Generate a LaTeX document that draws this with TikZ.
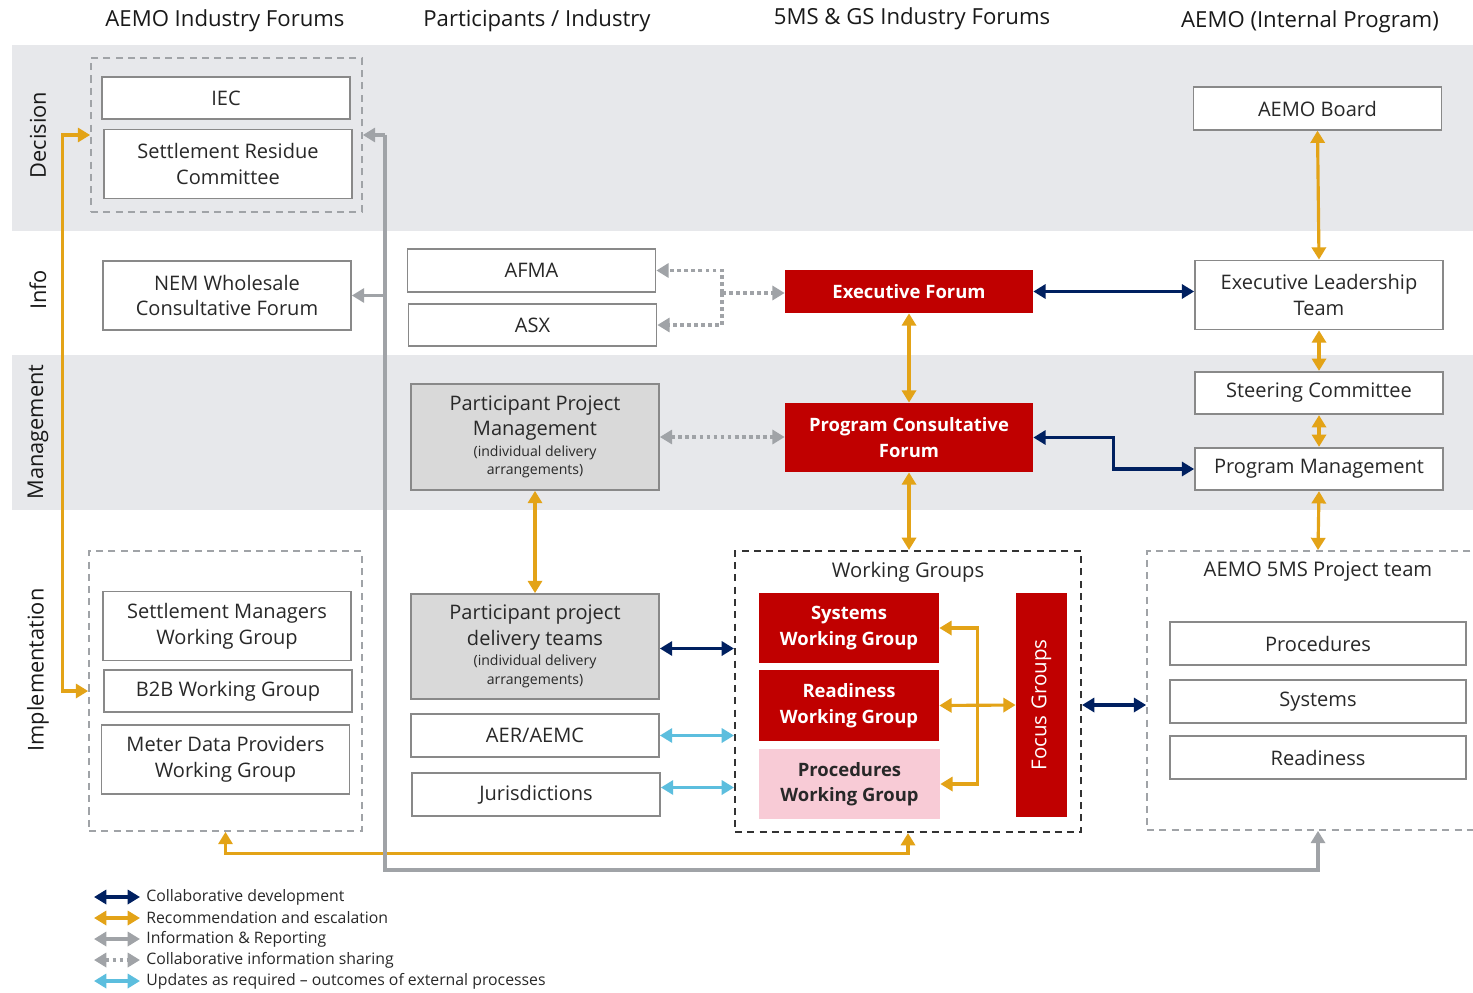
\documentclass[tikz,border=0pt]{standalone}
\usepackage{fontspec}
\setmainfont{Open Sans}
\usetikzlibrary{arrows.meta,positioning,calc}

\definecolor{band}{RGB}{231,232,235}
\definecolor{boxline}{RGB}{137,137,137}
\definecolor{txt}{RGB}{40,40,40}
\definecolor{aemored}{RGB}{192,0,0}
\definecolor{pinkwg}{RGB}{248,203,214}
\definecolor{graybox}{RGB}{217,217,217}
\definecolor{navyc}{RGB}{0,32,96}
\definecolor{orangec}{RGB}{227,163,23}
\definecolor{grayc}{RGB}{160,163,167}
\definecolor{bluec}{RGB}{92,190,222}

\begin{document}
\begin{tikzpicture}[
    x=0.02cm, y=-0.02cm,
    >={Triangle[width=8pt,length=7pt]},
    box/.style={rectangle, draw=boxline, line width=1pt, fill=white, text=txt, align=center, inner sep=0pt, minimum width=4.96cm, minimum height=0.85cm, font=\fontsize{11.4}{14.6}\selectfont},
    tall/.style={minimum height=1.38cm},
    redbox/.style={rectangle, fill=aemored, text=white, align=center, inner sep=0pt, minimum width=4.96cm, minimum height=0.86cm, font=\fontsize{10.5}{14.5}\selectfont\bfseries},
    group/.style={rectangle, draw=grayc, line width=1pt, dash pattern=on 4pt off 3pt, inner sep=0pt},
    wgroup/.style={rectangle, draw=black!80, line width=1.2pt, dash pattern=on 4pt off 3pt, inner sep=0pt},
    grouplbl/.style={text=txt, font=\fontsize{11.5}{13.5}\selectfont},
    header/.style={text=black!90, font=\fontsize{12.6}{15}\selectfont},
    bandlbl/.style={rotate=90, text=black!90, font=\fontsize{12.4}{15}\selectfont},
    legend/.style={anchor=west, inner sep=0pt, text=txt, font=\fontsize{9}{11}\selectfont},
    collab/.style={draw=navyc, line width=1.8pt},
    escal/.style={draw=orangec, line width=1.8pt},
    inform/.style={draw=grayc, line width=1.8pt},
    share/.style={draw=grayc, line width=1.8pt, dash pattern=on 2.2pt off 1.8pt},
    update/.style={draw=bluec, line width=1.8pt}
]

\clip (0,0) rectangle (1473,993);
\fill[white] (0,0) rectangle (1473,993);

% Bands
\fill[band] (12,45) rectangle (1473,231);
\fill[band] (12,355) rectangle (1473,510);

\node[bandlbl] (ldec) at (38,135) {Decision};
\node[bandlbl] (linfo) at (38,290) {Info};
\node[bandlbl] (lman) at (38,432) {Management};
\node[bandlbl] (limp) at (38,670) {Implementation};

% Column headers
\node[header] (h1) at (225,21) {AEMO Industry Forums};
\node[header] (h2) at (537,21) {Participants / Industry};
\node[header] (h3) at (912,19) {5MS \& GS Industry Forums};
\node[header] (h4) at (1310,22) {AEMO (Internal Program)};

% Decision
\node[group, minimum width=5.42cm, minimum height=3.08cm] (decgrp) at (226.5,135) {};
\node[box] (iec) at (226,98) {IEC};
\node[box,tall] (src) at (228,164) {Settlement Residue\\Committee};
\node[box] (board) at (1317.5,108.5) {AEMO Board};

% Info
\node[box,tall] (nem) at (227,295.5) {NEM Wholesale\\Consultative Forum};
\node[box] (afma) at (531.5,270.5) {AFMA};
\node[box] (asx) at (532.5,325) {ASX};
\node[redbox] (ef) at (909,291.5) {Executive Forum};
\node[box,tall] (elt) at (1319,295) {Executive Leadership\\Team};

% Management
\node[box,fill=graybox,minimum height=2.12cm] (ppm) at (535,437) {Participant Project\\Management\\[-3pt]{\fontsize{8}{10}\selectfont (individual delivery}\\[-4pt]{\fontsize{8}{10}\selectfont arrangements)}};
\node[redbox,tall] (pcf) at (909,437.5) {Program Consultative\\Forum};
\node[box] (steer) at (1319,393) {Steering Committee};
\node[box] (pm) at (1319,469) {Program Management};

% Implementation
\node[group, minimum width=5.46cm, minimum height=5.6cm] (implgrp) at (225.5,691) {};
\node[box,tall] (smwg) at (227,626) {Settlement Managers\\Working Group};
\node[box] (b2b) at (228,691) {B2B Working Group};
\node[box,tall] (mdp) at (225.5,759.5) {Meter Data Providers\\Working Group};

\node[box,fill=graybox,minimum height=2.1cm] (ppdt) at (535,646.5) {Participant project\\delivery teams\\[-3pt]{\fontsize{8}{10}\selectfont (individual delivery}\\[-4pt]{\fontsize{8}{10}\selectfont arrangements)}};
\node[box] (aer) at (535,735.5) {AER/AEMC};
\node[box] (jur) at (536,794.5) {Jurisdictions};

\node[wgroup, minimum width=6.92cm, minimum height=5.62cm] (wg) at (908,691.5) {};
\node[grouplbl] (wglbl) at (908,572) {Working Groups};
\node[redbox, minimum width=3.6cm, minimum height=1.4cm] (swg) at (849,628) {Systems\\Working Group};
\node[redbox, minimum width=3.6cm, minimum height=1.42cm] (rwg) at (849,705.5) {Readiness\\Working Group};
\node[redbox, fill=pinkwg, text=txt, minimum width=3.62cm, minimum height=1.4cm] (pwg) at (849.5,784) {Procedures\\Working Group};
\node[redbox, minimum width=1.02cm, minimum height=4.48cm, font=\fontsize{11.7}{14}\selectfont] (focus) at (1041.5,705) {\rotatebox{90}{Focus Groups}};

\node[group, minimum width=6.84cm, minimum height=5.58cm] (pteam) at (1318,690.5) {};
\node[grouplbl] (ptlbl) at (1318,572) {AEMO 5MS Project team};
\node[box, minimum width=5.92cm] (tproc) at (1318,643.5) {Procedures};
\node[box, minimum width=5.92cm] (tsys) at (1318,701.5) {Systems};
\node[box, minimum width=5.92cm] (tread) at (1318,757.5) {Readiness};

% AEMO internal chain
\draw[escal,<->] (board.south) -- (elt.north);
\draw[escal,<->] (elt.south) -- (steer.north);
\draw[escal,<->] (steer.south) -- (pm.north);
\draw[escal,<->] (pm.south) -- (pteam.north);

% Forums
\draw[collab,<->] (ef.east) -- (ef.east -| elt.west);
\draw[collab,<->] (pcf.east) -- ++(80,0) |- (pm.west);
\draw[escal,<->] (ef.south) -- (pcf.north);
\draw[escal,<->] (pcf.south) -- (pcf.south |- wg.north);

\coordinate (sj) at (722,293);
\draw[share,->] (sj) -- (sj -| ef.west);
\draw[share,->] (sj) |- (afma.east);
\draw[share,->] (sj) |- (asx.east);
\draw[share,<->] (ppm.east) -- (ppm.east -| pcf.west);

% Participants
\draw[escal,<->] (ppm.south) -- (ppdt.north);
\draw[collab,<->] ($(ppdt.east)+(0,2)$) -- ($(ppdt.east -| wg.west)+(0,2)$);
\draw[update,<->] (aer.east) -- (aer.east -| wg.west);
\draw[update,<->] ($(jur.east)+(0,-7)$) -- ($(jur.east -| wg.west)+(0,-7)$);

% Working groups
\coordinate (fj) at ($(rwg.east)!0.5!(focus.west)$);
\draw[escal,->] (fj) |- (swg.east);
\draw[escal,->] (fj) |- (pwg.east);
\draw[escal,<->] (rwg.east) -- (focus.west);
\draw[collab,<->] (wg.east |- focus.east) -- (pteam.west |- focus.east);

% AEMO forums
\draw[escal,<->] (decgrp.west) -- ++(-28,0) |- (implgrp.west);
\draw[escal,<->] (implgrp.south) -- ++(0,22) -| (wg.south);

\coordinate (gtop) at (385,135);
\coordinate (gbot) at (385,870);
\draw[inform,->] (gtop) -- (decgrp.east);
\draw[inform,->] (gtop |- nem.east) -- (nem.east);
\draw[inform,->] (gtop) -- (gbot) -| (pteam.south);

% Legend
\node[legend] (lg1) at (146,897) {Collaborative development};
\node[legend] (lg2) at (146,918) {Recommendation and escalation};
\node[legend] (lg3) at (146,939) {Information \& Reporting};
\node[legend] (lg4) at (146,960) {Collaborative information sharing};
\node[legend] (lg5) at (146,981) {Updates as required -- outcomes of external processes};
\draw[collab,<->] ($(lg1.west)+(-52,0)$) -- ($(lg1.west)+(-6,0)$);
\draw[escal,<->] ($(lg2.west)+(-52,0)$) -- ($(lg2.west)+(-6,0)$);
\draw[inform,<->] ($(lg3.west)+(-52,0)$) -- ($(lg3.west)+(-6,0)$);
\draw[share,<->] ($(lg4.west)+(-52,0)$) -- ($(lg4.west)+(-6,0)$);
\draw[update,<->] ($(lg5.west)+(-52,0)$) -- ($(lg5.west)+(-6,0)$);

\end{tikzpicture}
\end{document}
